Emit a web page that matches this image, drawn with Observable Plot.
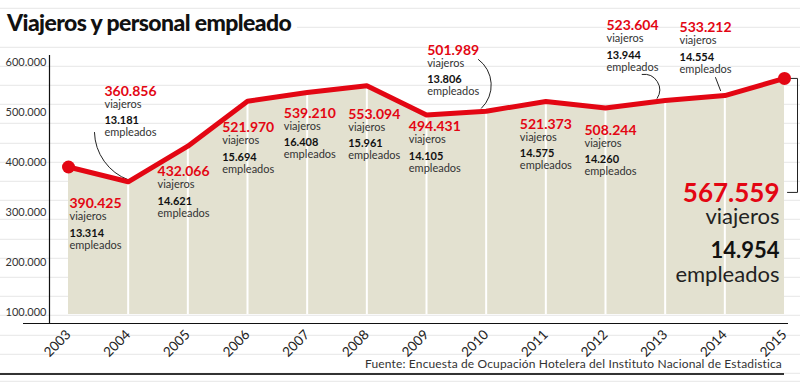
<!DOCTYPE html>
<html>
<head>
<meta charset="utf-8">
<script src="https://cdn.jsdelivr.net/npm/d3@7"></script>
<script src="https://cdn.jsdelivr.net/npm/@observablehq/plot@0.6"></script>
<style>
  html, body { margin: 0; padding: 0; }
  body {
    width: 800px; height: 392px; overflow: hidden; position: relative;
    font-family: Lato, "Open Sans", sans-serif;
    background-color: #fff;
    background-image: repeating-linear-gradient(to bottom, #e6e6e6 0, #e6e6e6 1px, transparent 1px, transparent 19.2px);
    background-position: 0 -11.2px;
  }
  #title { height: 40px; position: relative; }
  #title span {
    position: absolute; left: 0; top: 11px; padding: 0 6px 0 7px;
    background: #fff; color: #111; font-weight: 900; font-size: 23px; line-height: 23px;
    letter-spacing: -0.6px; white-space: nowrap;
  }
  #chart svg { overflow: visible; }
  #footer {
    position: absolute; right: 18px; top: 356px; font-size: 12px; line-height: 16px;
    letter-spacing: 0.15px; color: #333; white-space: nowrap;
  }
  #rule { position: absolute; left: 0; top: 373px; width: 784px; height: 2px; background: #333; }
</style>
</head>
<body>
<div id="title"><span>Viajeros y personal empleado</span></div>
<div id="chart"></div>
<div id="footer">Fuente: Encuesta de Ocupación Hotelera del Instituto Nacional de Estadistica</div>
<div id="rule"></div>
<script>
// ---- data ----
const years = [2003, 2004, 2005, 2006, 2007, 2008, 2009, 2010, 2011, 2012, 2013, 2014, 2015];
const viajeros = [390425, 360856, 432066, 521970, 539210, 553094, 494431, 501989, 521373, 508244, 523604, 533212, 567559];
const empleados = [13314, 13181, 14621, 15694, 16408, 15961, 14105, 13806, 14575, 14260, 13944, 14554, 14954];
const yTicks = [100000, 200000, 300000, 400000, 500000, 600000];

// ---- annotation layout (pixel offsets of each label block from its point) ----
const labelDx = [1, -23.7, -30.3, -25.3, -23.4, -18.6, -17.7, -59, -26, -21, -58.7, -45.3, -5];
const labelDy = [41.5, -86, 30, 31, 25, 33, 16.5, -56.5, 27, 26.5, -70, -63.5, 124];
const leaders = [
  {year: 2004, sx: -33.7, sy: -49.3, ex: 0, ey: -2, bend: -34},
  {year: 2010, sx: -7.7, sy: -51.7, ex: -4.7, ey: -3, bend: 50},
  {year: 2013, sx: -23, sy: -26, ex: -8, ey: -2, bend: 65},
  {year: 2014, sx: -9.3, sy: -18, ex: -4.3, ey: -5, bend: 0}
];
const bracket = [[0, 0], [13, 0], [13, 114], [3, 114]];

// ---- scales / styles ----
const red = "#e30613";
const beige = "#e3e1d0";
const width = 800, height = 316;
const marginTop = 15, marginBottom = 33, marginLeft = 49, marginRight = 12;
const xDomain = [2003, 2015], xRange = [68, 784];
const yDomain = [77400, 613400], yRange = [height - marginBottom, marginTop];
const areaBase = 95400;
const xs = d3.scaleLinear(xDomain, xRange);
const ys = d3.scaleLinear(yDomain, yRange);

const fmt = d3.formatLocale({decimal: ",", thousands: ".", grouping: [3], currency: ["", " €"]}).format(",");

const rows = years.map((year, i) => ({year, viajeros: viajeros[i], empleados: empleados[i]}));
const byYear = new Map(rows.map(d => [d.year, d]));
const toData = (year, dx, dy) => {
  const d = byYear.get(year);
  return {x: xs.invert(xs(year) + dx), y: ys.invert(ys(d.viajeros) + dy)};
};

const smallSpec = [
  {text: d => fmt(d.viajeros), off: 0, size: 14, weight: 700, fill: red},
  {text: () => "viajeros", off: 12, size: 11, weight: 400, fill: "#333"},
  {text: d => fmt(d.empleados), off: 28.5, size: 11, weight: 700, fill: "#111"},
  {text: () => "empleados", off: 40.5, size: 11, weight: 400, fill: "#333"}
];
const bigSpec = [
  {text: d => fmt(d.viajeros), off: 0, size: 26, weight: 700, fill: red},
  {text: () => "viajeros", off: 22, size: 22, weight: 400, fill: "#222"},
  {text: d => fmt(d.empleados), off: 56, size: 22, weight: 700, fill: "#111"},
  {text: () => "empleados", off: 80, size: 22, weight: 400, fill: "#222"}
];

const labelMarks = rows.flatMap((d, i) => {
  const big = i === rows.length - 1;
  return (big ? bigSpec : smallSpec).map(s => Plot.text([d], {
    x: "year", y: "viajeros", text: s.text,
    dx: labelDx[i], dy: labelDy[i] + s.off,
    textAnchor: big ? "end" : "start", lineAnchor: "bottom",
    fontSize: s.size, fontWeight: s.weight, fill: s.fill
  }));
});

const leaderRows = leaders.map(l => {
  const s = toData(l.year, l.sx, l.sy), e = toData(l.year, l.ex, l.ey);
  return {x1: s.x, y1: s.y, x2: e.x, y2: e.y, bend: l.bend};
});
const leaderMarks = leaderRows.map(r => Plot.arrow([r], {
  x1: "x1", y1: "y1", x2: "x2", y2: "y2", bend: r.bend, headLength: 0,
  stroke: "#222", strokeWidth: 1
}));

const last = rows[rows.length - 1];
const bracketRows = bracket.map(([dx, dy]) => toData(last.year, dx, dy));

const chart = Plot.plot({
  width, height, marginTop, marginBottom, marginLeft, marginRight,
  style: {background: "transparent", overflow: "visible", fontFamily: "Lato, 'Open Sans', sans-serif"},
  x: {domain: xDomain, range: xRange},
  y: {domain: yDomain, range: yRange},
  marks: [
    Plot.areaY(rows, {x: "year", y1: () => areaBase, y2: "viajeros", fill: beige}),
    Plot.ruleX(rows.slice(1, -1), {x: "year", y1: () => areaBase, y2: "viajeros", stroke: "#fff", strokeWidth: 2}),
    Plot.ruleX([xs.invert(marginLeft)], {stroke: "#111", strokeWidth: 1.2}),
    Plot.ruleY([yDomain[0]], {x1: () => xs.invert(23), x2: () => xs.invert(width - marginRight), stroke: "#111", strokeWidth: 1.2}),
    Plot.axisY(yTicks, {tickSize: 0, tickPadding: 3, tickFormat: fmt, fontSize: 11, fill: "#333"}),
    Plot.axisX(years, {tickSize: 0, tickPadding: 9, tickRotate: -45, tickFormat: d => String(d), fontSize: 13.5, fill: "#222"}),
    ...leaderMarks,
    Plot.line(bracketRows, {x: "x", y: "y", stroke: "#222", strokeWidth: 1}),
    Plot.line(rows, {x: "year", y: "viajeros", stroke: red, strokeWidth: 5, strokeLinejoin: "round", strokeLinecap: "round"}),
    Plot.dot([rows[0], last], {x: "year", y: "viajeros", r: 6.5, fill: red}),
    ...labelMarks
  ]
});
document.getElementById("chart").appendChild(chart);
</script>
</body>
</html>
